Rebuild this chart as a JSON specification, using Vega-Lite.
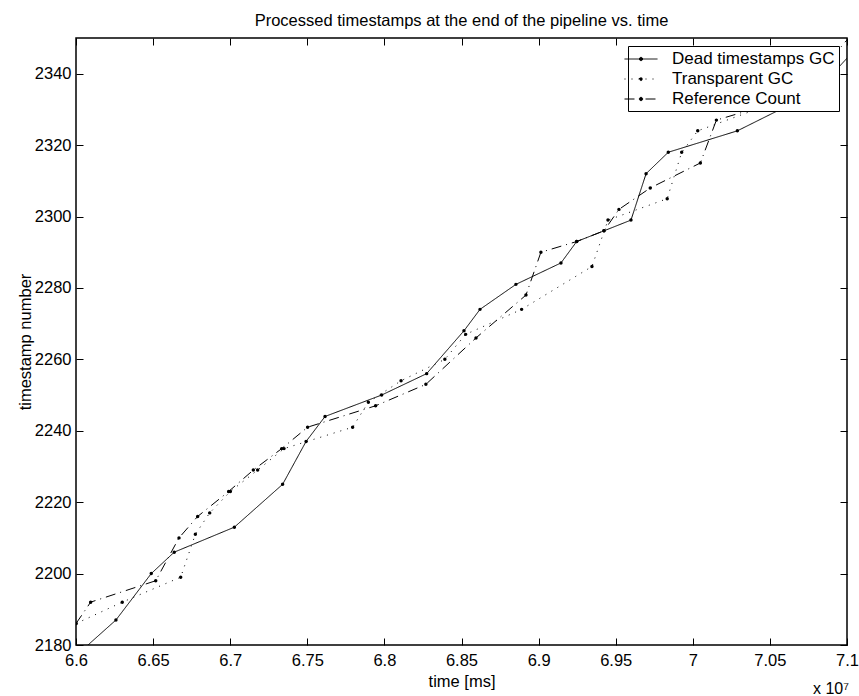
{
  "$schema": "https://vega.github.io/schema/vega-lite/v6.json",
  "width": 771,
  "height": 607,
  "autosize": {"type": "none"},
  "padding": {"left": 76, "top": 38, "right": 12, "bottom": 51},
  "config": {
    "font": "Liberation Sans",
    "view": {"stroke": "black", "strokeWidth": 1.5},
    "axis": {
      "grid": false,
      "domain": false,
      "tickColor": "black",
      "tickSize": -7,
      "tickWidth": 1,
      "labelColor": "black",
      "labelFont": "Liberation Sans",
      "labelFontSize": 16.5,
      "titleColor": "black",
      "titleFont": "Liberation Sans",
      "titleFontSize": 16.5,
      "titleFontWeight": "normal"
    },
    "legend": {
      "orient": "top-right",
      "offset": 8,
      "strokeColor": "black",
      "fillColor": "white",
      "padding": 4,
      "labelFont": "Liberation Sans",
      "labelFontSize": 17,
      "labelLimit": 400,
      "labelColor": "black",
      "labelOffset": 22,
      "rowPadding": 3,
      "symbolStrokeColor": "black",
      "symbolFillColor": "black",
      "symbolStrokeWidth": 1,
      "symbolSize": 272,
      "symbolType": "M-2,0H2M-0.2,0A0.2,0.2,0,1,1,0.2,0A0.2,0.2,0,1,1,-0.2,0Z"
    }
  },
  "title": {
    "text": "Processed timestamps at the end of the pipeline vs. time",
    "fontSize": 16.5,
    "fontWeight": "normal",
    "font": "Liberation Sans",
    "color": "black",
    "anchor": "middle",
    "baseline": "alphabetic",
    "offset": -5
  },
  "datasets": {
    "series": [
      {"series": "Dead timestamps GC", "time": 66000000, "ts": 2177},
      {"series": "Dead timestamps GC", "time": 66259000, "ts": 2187},
      {"series": "Dead timestamps GC", "time": 66488000, "ts": 2200},
      {"series": "Dead timestamps GC", "time": 66637000, "ts": 2206},
      {"series": "Dead timestamps GC", "time": 67027000, "ts": 2213},
      {"series": "Dead timestamps GC", "time": 67340000, "ts": 2225},
      {"series": "Dead timestamps GC", "time": 67492000, "ts": 2237},
      {"series": "Dead timestamps GC", "time": 67615000, "ts": 2244},
      {"series": "Dead timestamps GC", "time": 67982000, "ts": 2250},
      {"series": "Dead timestamps GC", "time": 68274000, "ts": 2256},
      {"series": "Dead timestamps GC", "time": 68516000, "ts": 2268},
      {"series": "Dead timestamps GC", "time": 68620000, "ts": 2274},
      {"series": "Dead timestamps GC", "time": 68853000, "ts": 2281},
      {"series": "Dead timestamps GC", "time": 69145000, "ts": 2287},
      {"series": "Dead timestamps GC", "time": 69247000, "ts": 2293},
      {"series": "Dead timestamps GC", "time": 69424000, "ts": 2296},
      {"series": "Dead timestamps GC", "time": 69599000, "ts": 2299},
      {"series": "Dead timestamps GC", "time": 69697000, "ts": 2312},
      {"series": "Dead timestamps GC", "time": 69841000, "ts": 2318},
      {"series": "Dead timestamps GC", "time": 70289000, "ts": 2324},
      {"series": "Dead timestamps GC", "time": 70800000, "ts": 2335},
      {"series": "Dead timestamps GC", "time": 71100000, "ts": 2349},
      {"series": "Transparent GC", "time": 66000000, "ts": 2186},
      {"series": "Transparent GC", "time": 66300000, "ts": 2192},
      {"series": "Transparent GC", "time": 66679000, "ts": 2199},
      {"series": "Transparent GC", "time": 66774000, "ts": 2211},
      {"series": "Transparent GC", "time": 66867000, "ts": 2217},
      {"series": "Transparent GC", "time": 67001000, "ts": 2223},
      {"series": "Transparent GC", "time": 67178000, "ts": 2229},
      {"series": "Transparent GC", "time": 67349000, "ts": 2235},
      {"series": "Transparent GC", "time": 67794000, "ts": 2241},
      {"series": "Transparent GC", "time": 67896000, "ts": 2248},
      {"series": "Transparent GC", "time": 68108000, "ts": 2254},
      {"series": "Transparent GC", "time": 68392000, "ts": 2260},
      {"series": "Transparent GC", "time": 68527000, "ts": 2267},
      {"series": "Transparent GC", "time": 68890000, "ts": 2274},
      {"series": "Transparent GC", "time": 69346000, "ts": 2286},
      {"series": "Transparent GC", "time": 69450000, "ts": 2299},
      {"series": "Transparent GC", "time": 69834000, "ts": 2305},
      {"series": "Transparent GC", "time": 69928000, "ts": 2318},
      {"series": "Transparent GC", "time": 70032000, "ts": 2324},
      {"series": "Transparent GC", "time": 70600000, "ts": 2333},
      {"series": "Reference Count", "time": 66000000, "ts": 2186},
      {"series": "Reference Count", "time": 66095000, "ts": 2192},
      {"series": "Reference Count", "time": 66517000, "ts": 2198},
      {"series": "Reference Count", "time": 66668000, "ts": 2210},
      {"series": "Reference Count", "time": 66789000, "ts": 2216},
      {"series": "Reference Count", "time": 66990000, "ts": 2223},
      {"series": "Reference Count", "time": 67150000, "ts": 2229},
      {"series": "Reference Count", "time": 67334000, "ts": 2235},
      {"series": "Reference Count", "time": 67502000, "ts": 2241},
      {"series": "Reference Count", "time": 67943000, "ts": 2247},
      {"series": "Reference Count", "time": 68269000, "ts": 2253},
      {"series": "Reference Count", "time": 68594000, "ts": 2266},
      {"series": "Reference Count", "time": 68918000, "ts": 2278},
      {"series": "Reference Count", "time": 69015000, "ts": 2290},
      {"series": "Reference Count", "time": 69247000, "ts": 2293},
      {"series": "Reference Count", "time": 69424000, "ts": 2296},
      {"series": "Reference Count", "time": 69521000, "ts": 2302},
      {"series": "Reference Count", "time": 69724000, "ts": 2308},
      {"series": "Reference Count", "time": 70049000, "ts": 2315},
      {"series": "Reference Count", "time": 70153000, "ts": 2327},
      {"series": "Reference Count", "time": 70695000, "ts": 2334},
      {"series": "Reference Count", "time": 71050000, "ts": 2352}
    ]
  },
  "layer": [
    {
      "data": {"name": "series"},
      "mark": {"type": "line", "clip": true, "strokeWidth": 1, "color": "black"},
      "encoding": {
        "x": {
          "field": "time", "type": "quantitative",
          "scale": {"domain": [66000000, 71000000], "nice": false, "zero": false},
          "axis": {
            "orient": "bottom",
            "values": [66000000, 66500000, 67000000, 67500000, 68000000, 68500000, 69000000, 69500000, 70000000, 70500000, 71000000],
            "labelExpr": "format(datum.value / 10000000, '.3~g')",
            "labelPadding": 14,
            "labelFlush": false,
            "title": "time [ms]",
            "titlePadding": 5
          }
        },
        "y": {
          "field": "ts", "type": "quantitative",
          "scale": {"domain": [2180, 2350], "nice": false, "zero": false},
          "axis": {
            "orient": "left",
            "values": [2180, 2200, 2220, 2240, 2260, 2280, 2300, 2320, 2340],
            "format": "d",
            "labelPadding": 12,
            "labelFlush": false,
            "title": "timestamp number",
            "titlePadding": 1
          }
        },
        "strokeDash": {
          "field": "series", "type": "nominal",
          "scale": {
            "domain": ["Dead timestamps GC", "Transparent GC", "Reference Count"],
            "range": [[1, 0], [1, 6], [10, 5, 1, 5]]
          },
          "legend": {"title": null}
        },
        "detail": {"field": "series"}
      }
    },
    {
      "data": {"name": "series"},
      "mark": {"type": "point", "clip": true, "filled": true, "shape": "circle", "size": 12, "color": "black", "opacity": 1},
      "encoding": {
        "x": {"field": "time", "type": "quantitative", "axis": {
            "orient": "top", "labels": false, "title": null,
            "values": [66000000, 66500000, 67000000, 67500000, 68000000, 68500000, 69000000, 69500000, 70000000, 70500000, 71000000]}},
        "y": {"field": "ts", "type": "quantitative", "axis": {
            "orient": "right", "labels": false, "title": null,
            "values": [2180, 2200, 2220, 2240, 2260, 2280, 2300, 2320, 2340]}}
      }
    },
    {
      "data": {"values": [{"label": "x 10⁷"}]},
      "mark": {"type": "text", "align": "right", "baseline": "alphabetic", "dy": 49, "dx": 2, "fontSize": 16, "font": "Liberation Sans", "color": "black"},
      "encoding": {
        "x": {"datum": 71000000, "type": "quantitative", "axis": null},
        "y": {"datum": 2180, "type": "quantitative", "axis": null},
        "text": {"field": "label"}
      }
    }
  ],
  "resolve": {"axis": {"x": "independent", "y": "independent"}}
}
